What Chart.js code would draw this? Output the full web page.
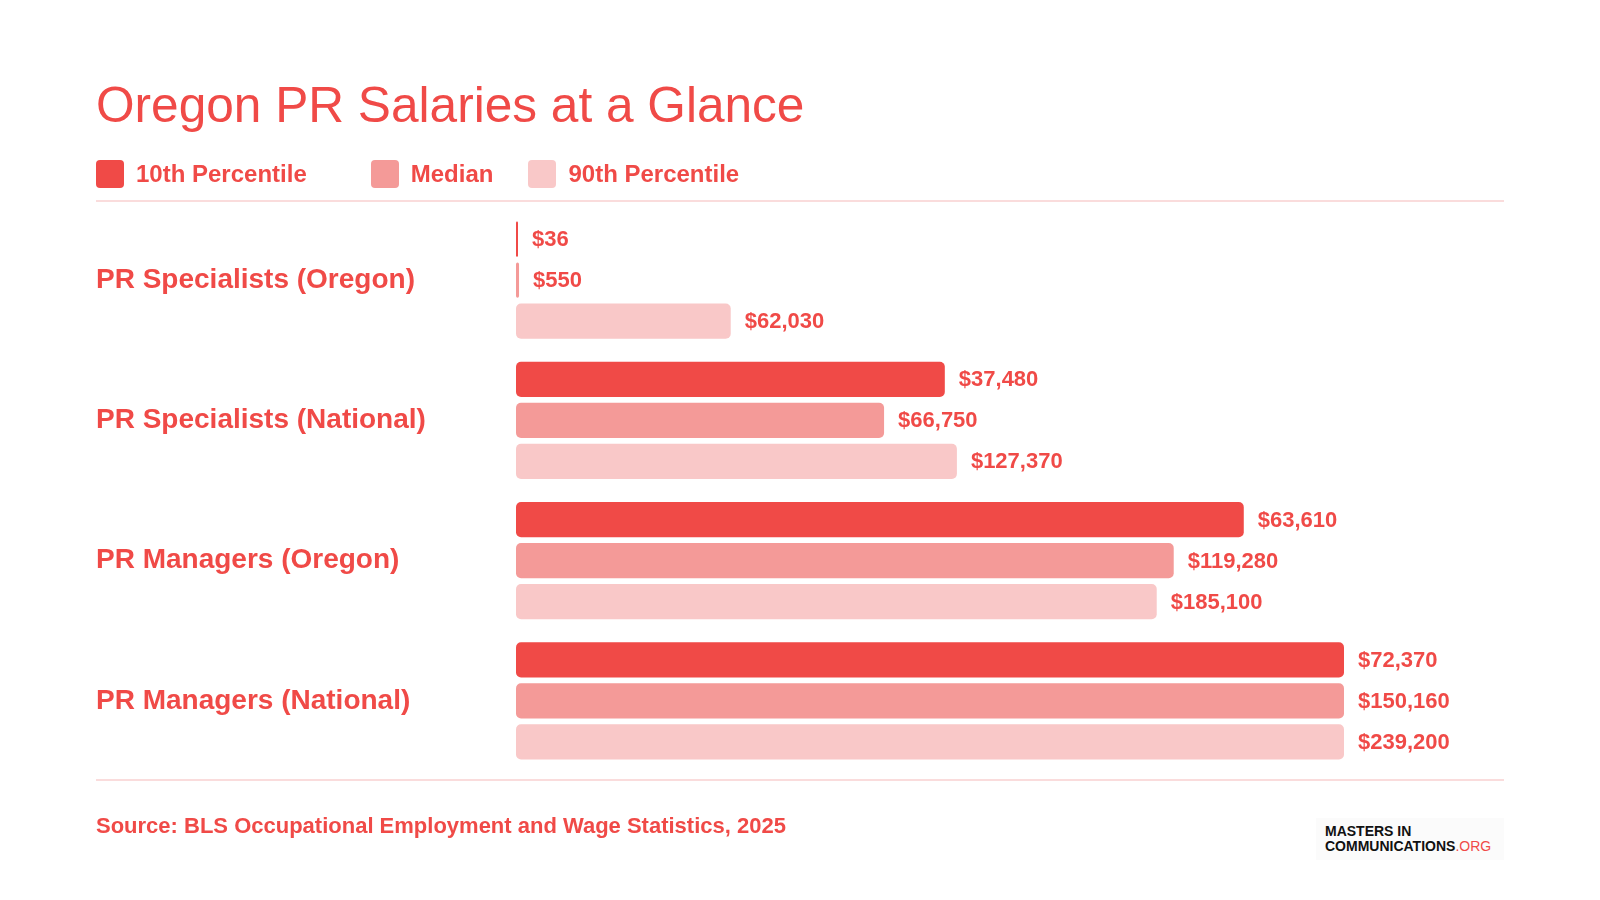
<!DOCTYPE html>
<html>
<head>
<meta charset="utf-8">
<script src="https://cdn.jsdelivr.net/npm/chart.js@4"></script>
<style>
  html, body { margin: 0; padding: 0; background: #ffffff; }
  body { width: 1600px; height: 900px; position: relative; overflow: hidden;
         font-family: "Liberation Sans", Helvetica, Arial, sans-serif; color: #F04A47; }
  #chart { position: absolute; left: 0; top: 0; }
  .title { position: absolute; left: 96px; top: 81px; font-size: 49.6px; font-weight: 400;
           line-height: 1; white-space: nowrap; }
  .legend { position: absolute; left: 96px; top: 160px; height: 28px; display: flex; align-items: center; }
  .legend .item { display: flex; align-items: center; font-size: 24px; font-weight: 700; white-space: nowrap; }
  .legend .sw { width: 28px; height: 28px; border-radius: 4px; margin-right: 12px; }
  .rule { position: absolute; left: 96px; width: 1408px; height: 2px; background: #FADCDC; }
  .source { position: absolute; left: 96px; top: 815px; font-size: 22px; font-weight: 700; white-space: nowrap; line-height: 1; }
  .logo { position: absolute; left: 1316px; top: 818px; width: 188px; height: 42px; background: #fbfbfb;
          font-weight: 700; font-size: 14px; line-height: 15px; color: #111; letter-spacing: 0px; }
  .logo .t { position: absolute; left: 9px; top: 6px; white-space: nowrap; }
  .logo .org { color: #F04A47; font-weight: 400; }
</style>
</head>
<body>
<canvas id="chart" width="1600" height="900"></canvas>
<div class="title">Oregon PR Salaries at a Glance</div>
<div class="legend" id="legend"></div>
<div class="rule" style="top:200px"></div>
<div class="rule" style="top:779px"></div>
<div class="source">Source: BLS Occupational Employment and Wage Statistics, 2025</div>
<div class="logo"><div class="t">MASTERS IN<br>COMMUNICATIONS<span class="org">.ORG</span></div></div>
<script>
// ---- Data ----
const categories = ['PR Specialists (Oregon)', 'PR Specialists (National)', 'PR Managers (Oregon)', 'PR Managers (National)'];
const seriesNames = ['10th Percentile', 'Median', '90th Percentile'];
const p10Values = [36, 37480, 63610, 72370];
const medianValues = [550, 66750, 119280, 150160];
const p90Values = [62030, 127370, 185100, 239200];

// ---- Styles ----
const RED = '#F04A47';
const colors = ['#F04A47', '#F49A98', '#F9C8C8'];
const FONT = '"Liberation Sans", Helvetica, Arial, sans-serif';

// HTML legend
const legendGaps = [0, 64, 35];
const legendEl = document.getElementById('legend');
seriesNames.forEach((name, i) => {
  const it = document.createElement('div');
  it.className = 'item';
  it.style.marginLeft = legendGaps[i] + 'px';
  it.innerHTML = '<span class="sw" style="background:' + colors[i] + '"></span>' + name;
  legendEl.appendChild(it);
});

const valueLabels = {
  id: 'valueLabels',
  afterDatasetsDraw(chart) {
    const ctx = chart.ctx;
    ctx.save();
    ctx.font = '700 22px ' + FONT;
    ctx.fillStyle = RED;
    ctx.textAlign = 'left';
    ctx.textBaseline = 'middle';
    chart.data.datasets.forEach((ds, di) => {
      const meta = chart.getDatasetMeta(di);
      meta.data.forEach((el, i) => {
        const v = ds.data[i];
        ctx.fillText('$' + v.toLocaleString('en-US'), el.x + 14, el.y + 1);
      });
    });
    ctx.restore();
  }
};

const seriesData = [p10Values, medianValues, p90Values];
const axisIds = ['x10', 'xMed', 'x90'];

const scales = {
  y: {
    type: 'category',
    grid: { display: false },
    border: { display: false },
    ticks: {
      crossAlign: 'far',
      color: RED,
      font: { family: FONT, size: 28, weight: '700' },
      padding: 0
    },
    afterFit(axis) { axis.width = 420; }
  }
};
axisIds.forEach((id, i) => {
  scales[id] = {
    type: 'linear',
    display: false,
    min: 0,
    max: Math.max(...seriesData[i])
  };
});

new Chart(document.getElementById('chart'), {
  type: 'bar',
  data: {
    labels: categories,
    datasets: seriesData.map((d, i) => ({
      label: seriesNames[i],
      data: d,
      xAxisID: axisIds[i],
      backgroundColor: colors[i],
      borderRadius: 5,
      borderSkipped: false,
      categoryPercentage: 0.877,
      barPercentage: 0.854,
      minBarLength: 2
    }))
  },
  options: {
    indexAxis: 'y',
    responsive: false,
    animation: false,
    devicePixelRatio: 1,
    layout: { padding: { left: 96, right: 256, top: 210, bottom: 129 } },
    plugins: { legend: { display: false }, tooltip: { enabled: false }, title: { display: false } },
    scales: scales
  },
  plugins: [valueLabels]
});
</script>
</body>
</html>
